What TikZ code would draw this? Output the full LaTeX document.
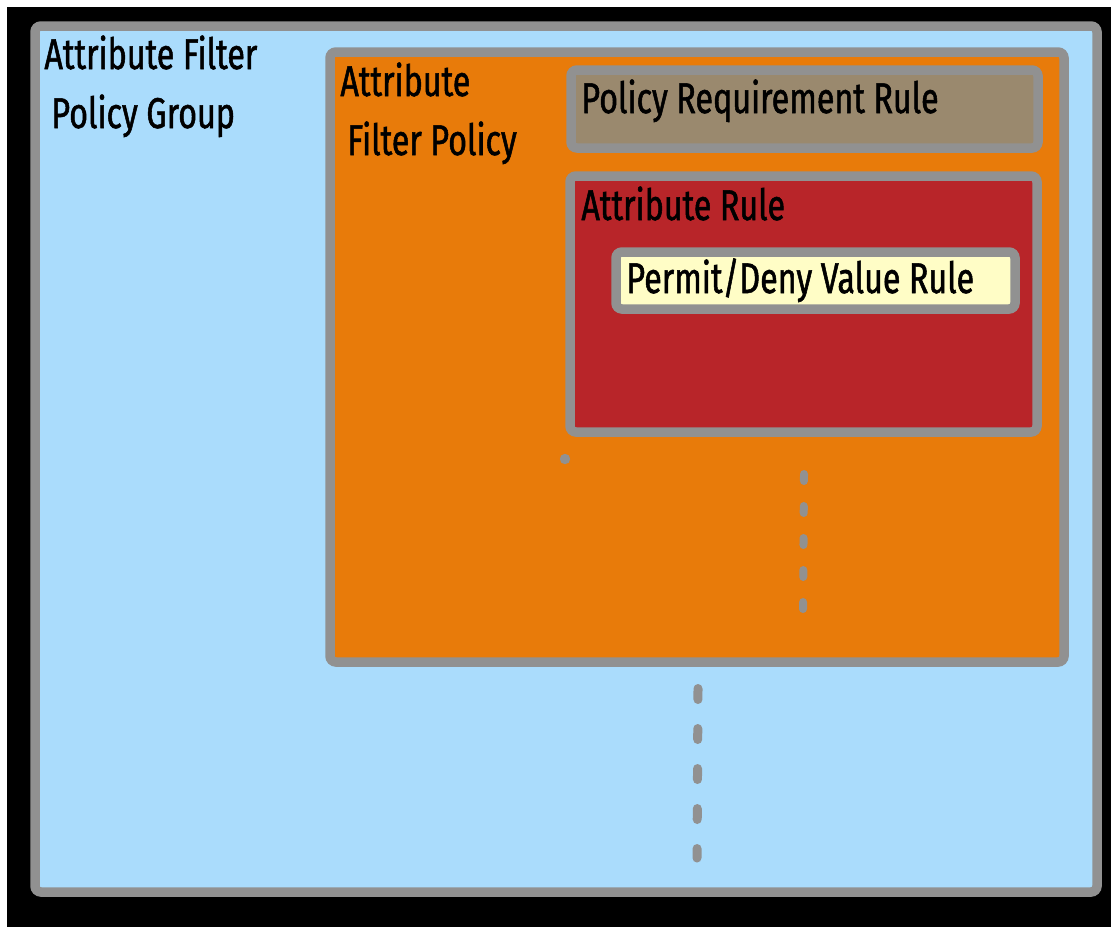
\documentclass[tikz,border=0pt]{standalone}
\usepackage{fontspec}
\setmainfont[FakeStretch=0.75, FakeBold=1.2]{Fira Sans}
\definecolor{framegray}{RGB}{145,145,145}
\definecolor{groupblue}{RGB}{170,220,252}
\definecolor{policyorange}{RGB}{232,123,10}
\definecolor{requirementtan}{RGB}{154,137,110}
\definecolor{rulered}{RGB}{184,37,41}
\definecolor{valueyellow}{RGB}{255,253,198}
\tikzset{
  boxframe/.style={draw=framegray, line width=4.75pt, rounded corners=3pt},
  boxtext/.style={anchor=base west, inner sep=0pt, font=\fontsize{21.5}{29.5}\selectfont, align=left},
  moredots/.style={draw=framegray, line cap=round}
  }

\begin{document}
\begin{tikzpicture}[x=0.5pt, y=-0.5pt]
	% Frame
	\useasboundingbox (0,0) rectangle (1111,927);
	\fill [white] (0,0) rectangle (1111,927);
	\fill [black] (7,7) rectangle (1111,927);

	% Boxes
	\draw [boxframe, fill=groupblue] (35,26) rectangle (1097,892);
	\draw [boxframe, fill=policyorange] (330,52) rectangle (1064,662);
	\draw [boxframe, fill=requirementtan] (571,70) rectangle (1038,148);
	\draw [boxframe, fill=rulered] (570,176) rectangle (1037,432);
	\draw [boxframe, fill=valueyellow] (616,252) rectangle (1015,309);

	% Nodes (two-line texts sit on their last baseline)
	\node[boxtext] (group) at (44,128) {Attribute Filter\\\hspace*{3.5pt}Policy Group};
	\node[boxtext] (policy) at (340,155) {Attribute\\\hspace*{3.5pt}Filter Policy};
	\node[boxtext] (requirement) at (581,113) {Policy Requirement Rule};
	\node[boxtext] (rule) at (581,220) {Attribute Rule};
	\node[boxtext] (value) at (626,293) {Permit/Deny Value Rule};

	% More rules / policies
	\fill [framegray] (565,459) circle [radius=2.6pt];
	\draw [moredots, line width=4pt, dash pattern=on 3.5pt off 12.5pt] (804,474) -- (803,609);
	\draw [moredots, line width=4.5pt, dash pattern=on 5.5pt off 14.5pt] (698,688.5) -- (697,858);

\end{tikzpicture}
\end{document}
